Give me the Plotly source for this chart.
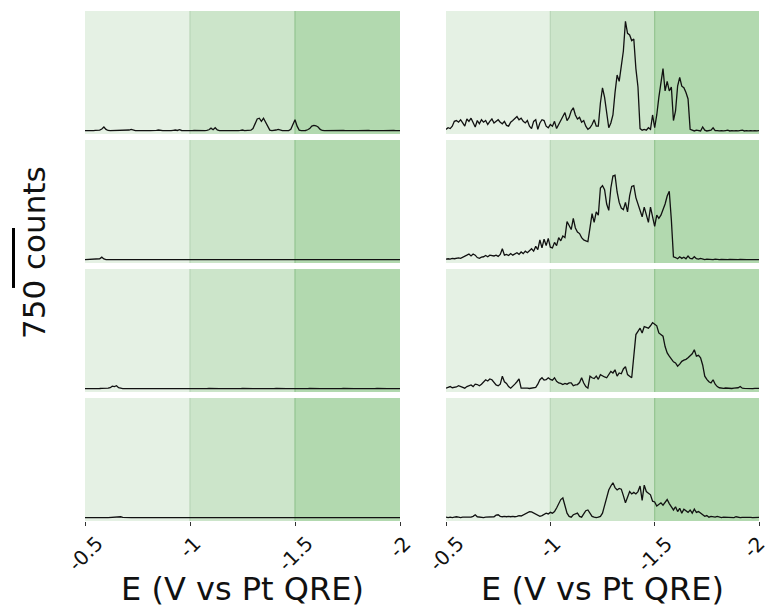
import plotly.graph_objects as go

# ---------------- data ----------------
E_START, E_STEP, N_PTS = -0.5, 0.01, 151
E = [round(E_START - E_STEP * i, 2) for i in range(N_PTS)]

TICK_VALS = [-0.5, -1.0, -1.5, -2.0]
TICK_TEXT = ["-0.5", "-1", "-1.5", "-2"]
REGION_EDGES = [-0.5, -1.0, -1.5, -2.0]
SCALE_COUNTS = 750

left_1 = [5, 3, 6, 4, 5, 8, 6, 10, 25, 50,
          20, 6, 4, 5, 3, 6, 4, 5, 3, 6,
          8, 12, 20, 8, 4, 5, 3, 5, 4, 6,
          3, 5, 4, 6, 8, 12, 6, 4, 5, 3,
          6, 4, 8, 12, 6, 15, 6, 4, 5, 3,
          5, 4, 6, 4, 3, 5, 6, 4, 8, 15,
          35, 15, 40, 12, 5, 4, 6, 3, 5, 4,
          6, 4, 5, 3, 6, 12, 5, 4, 6, 10,
          30, 90, 150, 160, 120, 160, 110, 40, 10, 5,
          6, 12, 20, 8, 5, 4, 6, 4, 20, 70,
          140, 60, 10, 5, 4, 6, 15, 30, 60, 70,
          65, 50, 20, 6, 4, 5, 3, 6, 4, 5,
          3, 5, 4, 6, 3, 5, 4, 6, 3, 5,
          4, 6, 3, 5, 4, 6, 3, 5, 4, 6,
          3, 5, 4, 6, 3, 5, 4, 6, 3, 5, 4]

left_2 = [3, 4, 3, 5, 4, 6, 8, 15, 35, 12,
          5, 4, 3, 5, 4, 3, 5, 4, 3, 4,
          3, 5, 4, 3, 4, 5, 3, 4, 3, 5,
          4, 3, 5, 4, 3, 4, 5, 3, 4, 3,
          5, 4, 3, 4, 5, 3, 4, 3, 5, 4,
          3, 8, 4, 3, 5, 4, 3, 4, 5, 3,
          4, 3, 5, 4, 3, 4, 5, 3, 4, 3,
          5, 4, 3, 4, 5, 3, 4, 3, 5, 4,
          3, 4, 5, 3, 4, 3, 5, 4, 3, 4,
          5, 3, 4, 3, 5, 4, 3, 4, 5, 3,
          4, 3, 5, 4, 3, 4, 5, 3, 4, 3,
          5, 4, 3, 4, 5, 3, 4, 3, 5, 4,
          3, 4, 5, 3, 4, 3, 5, 4, 3, 4,
          5, 3, 4, 3, 5, 4, 3, 4, 5, 3,
          4, 3, 5, 4, 3, 4, 5, 3, 4, 3, 4]

left_3 = [4, 3, 5, 4, 6, 4, 5, 6, 8, 6,
          5, 10, 15, 35, 30, 40, 15, 8, 5, 4,
          6, 4, 5, 3, 4, 6, 4, 5, 3, 4,
          5, 4, 3, 5, 4, 6, 4, 3, 5, 4,
          3, 5, 4, 6, 4, 3, 5, 4, 3, 5,
          4, 6, 4, 3, 5, 4, 3, 5, 4, 6,
          4, 3, 5, 4, 3, 5, 4, 6, 4, 3,
          5, 4, 3, 5, 4, 6, 4, 3, 5, 4,
          3, 5, 4, 6, 4, 3, 5, 4, 3, 5,
          4, 6, 4, 3, 5, 4, 3, 5, 4, 6,
          4, 3, 5, 4, 3, 5, 4, 6, 4, 3,
          5, 4, 3, 5, 4, 6, 4, 3, 5, 4,
          3, 5, 4, 6, 4, 3, 5, 4, 3, 5,
          4, 6, 4, 3, 5, 4, 3, 5, 4, 6,
          4, 3, 5, 4, 3, 5, 4, 6, 4, 3, 4]

left_4 = [3, 4, 3, 5, 4, 3, 4, 5, 3, 4,
          5, 4, 6, 5, 8, 10, 12, 15, 8, 5,
          4, 3, 5, 4, 3, 4, 5, 3, 4, 3,
          5, 4, 3, 4, 5, 3, 4, 3, 5, 4,
          3, 4, 5, 3, 4, 3, 5, 4, 3, 4,
          5, 3, 4, 3, 5, 4, 3, 4, 5, 3,
          4, 3, 5, 4, 3, 4, 5, 3, 4, 3,
          5, 4, 3, 4, 5, 3, 4, 3, 5, 4,
          3, 4, 5, 3, 4, 3, 5, 4, 3, 4,
          5, 3, 4, 3, 5, 4, 3, 4, 5, 3,
          4, 3, 5, 4, 3, 4, 5, 3, 4, 3,
          5, 4, 3, 4, 5, 3, 4, 3, 5, 4,
          3, 4, 5, 3, 4, 3, 5, 4, 3, 4,
          5, 3, 4, 3, 5, 4, 3, 4, 5, 3,
          4, 3, 5, 4, 3, 4, 5, 3, 4, 3, 4]

right_1 = [20, 40, 30, 60, 120, 130, 110, 140, 100, 60,
           150, 120, 160, 100, 50, 130, 90, 140, 110, 130,
           80, 120, 150, 100, 120, 140, 110, 90, 120, 70,
           60, 110, 130, 150, 180, 140, 160, 120, 100, 130,
           60, 30, 120, 140, 20, 100, 140, 130, 60, 40,
           80, 60, 120, 30, 80, 120, 170, 230, 130, 170,
           250, 290, 200, 150, 170, 110, 130, 60, 20, 40,
           80, 140, 60, 60, 350, 540, 420, 250, 40, 100,
           200, 480, 700, 620, 820, 1000, 1370, 1220, 1200, 1130,
           1150, 780, 550, 30, 10, 20, 10, 40, 20, 200,
           40, 200, 420, 600, 780, 500, 620, 500, 550, 130,
           250, 560, 670, 560, 540, 480, 400, 20, 10, 0,
           10, 5, 0, 50, 10, 0, 5, 10, 40, 5,
           5, 0, 5, 0, 5, 10, 0, 5, 0, 5,
           0, 5, 10, 0, 5, 0, 5, 0, 5, 0, 5]

right_2 = [10, 15, 10, 20, 15, 20, 25, 20, 30, 40,
           60, 75, 50, 75, 60, 30, 20, 35, 40, 55,
           40, 60, 55, 50, 60, 45, 70, 140, 60, 70,
           55, 80, 60, 70, 90, 70, 100, 80, 110, 90,
           120, 140, 110, 170, 130, 250, 150, 260, 180, 270,
           160, 150, 220, 180, 280, 240, 300, 280, 480, 420,
           380, 520, 400, 350, 330, 280, 250, 240, 230, 400,
           580, 470, 600, 560, 900, 930, 880, 700, 620, 900,
           1050, 1060, 850, 720, 650, 630, 720, 600, 800, 920,
           930, 780, 700, 620, 540, 660, 560, 470, 660, 530,
           420, 560, 520, 560, 620, 700, 800, 860, 500, 40,
           30, 15, 40, 20, 35, 15, 50, 20, 15, 40,
           15, 10, 20, 8, 5, 10, 6, 8, 5, 10,
           6, 5, 8, 5, 6, 4, 8, 5, 6, 4,
           5, 8, 4, 6, 5, 4, 6, 5, 4, 6, 5]

right_3 = [10, 20, 30, 15, 20, 25, 40, 30, 20, 10,
           30, 40, 50, 30, 60, 55, 40, 60, 90, 115,
           100, 125, 115, 80, 50, 40, 60, 160, 90, 70,
           30, 10, 30, 60, 90, 125, 10, 12, 8, 10,
           6, 10, 8, 20, 60, 115, 140, 110, 115, 140,
           120, 110, 140, 95, 75, 70, 55, 70, 60, 75,
           75, 40, 50, 55, 80, 140, 75, 30, 10, 160,
           140, 130, 160, 120, 180, 160, 150, 140, 180, 220,
           200, 240, 160, 200, 190, 250, 280, 180, 160, 140,
           410, 680, 720, 760, 700, 780, 770, 760, 790, 830,
           810, 790, 700, 680, 660, 530, 450, 410, 370, 340,
           325, 285, 310, 345, 360, 370, 390, 420, 440, 490,
           410, 420, 390, 300, 160, 120, 90, 75, 115, 60,
           30, 15, 10, 8, 12, 8, 10, 6, 10, 8,
           15, 30, 10, 8, 6, 10, 8, 5, 8, 6, 8]

right_4 = [10, 5, 10, 5, 10, 15, 10, 5, 10, 10,
           5, 10, 10, 20, 40, 15, 10, 10, 5, 10,
           10, 15, 10, 15, 35, 40, 20, 15, 20, 15,
           20, 15, 20, 15, 20, 30, 25, 40, 60, 70,
           80, 75, 60, 40, 30, 20, 30, 50, 60, 50,
           70, 60, 80, 125, 180, 230, 250, 140, 60, 20,
           10, 40, 50, 60, 20, 10, 50, 90, 100, 50,
           20, 10, 5, 10, 20, 60, 150, 260, 350, 400,
           440, 380, 350, 370, 360, 280, 190, 260, 330, 300,
           320, 300, 330, 400, 220, 410, 330, 310, 290, 210,
           200, 150, 170, 190, 160, 200, 230, 180, 130, 100,
           140, 80, 120, 60, 110, 90, 70, 100, 60, 110,
           70, 80, 60, 40, 20, 30, 10, 20, 15, 10,
           20, 10, 5, 10, 8, 5, 10, 6, 5, 15,
           8, 5, 8, 10, 5, 6, 8, 5, 6, 5, 8]

panels = [left_1, right_1, left_2, right_2, left_3, right_3, left_4, right_4]

# ---------------- styling ----------------
W, H = 767, 607
FONT = "DejaVu Sans"
REGION_FILLS = ["#e5f1e4", "#cce5ca", "#b2d9af"]
EDGE_COLORS = {-1.0: "#b9d6b7", -1.5: "#93c490"}
Y_RANGE = [-38, 1500]

col_px = [(85, 400), (446, 759)]
row_px = [(11, 134), (140, 263), (269, 392), (398, 521)]

fig = go.Figure()
layout = dict(width=W, height=H, margin=dict(l=0, r=0, t=0, b=0),
              paper_bgcolor="white", plot_bgcolor="rgba(0,0,0,0)",
              showlegend=False, font=dict(family=FONT, color="#111"))
shapes, annotations = [], []
y_domains = {}

for k, ys in enumerate(panels):
    n = k + 1
    r, c = divmod(k, 2)
    xs = "x" if n == 1 else f"x{n}"
    yname = "y" if n == 1 else f"y{n}"
    xkey = "xaxis" if n == 1 else f"xaxis{n}"
    ykey = "yaxis" if n == 1 else f"yaxis{n}"
    x0p, x1p = col_px[c]
    t, b = row_px[r]
    bottom = r == 3
    ydom = [1 - b / H, 1 - t / H]
    y_domains[(r, c)] = ydom
    layout[xkey] = dict(domain=[x0p / W, x1p / W], range=[TICK_VALS[0], TICK_VALS[-1]],
                        anchor=yname, showgrid=False, zeroline=False, showline=False,
                        tickvals=TICK_VALS, showticklabels=False,
                        ticks="outside" if bottom else "", ticklen=4, tickcolor="#333", tickwidth=1)
    layout[ykey] = dict(domain=ydom, range=Y_RANGE, anchor=xs,
                        visible=False, showgrid=False, zeroline=False)
    for j in range(3):
        shapes.append(dict(type="rect", xref=xs, yref=f"{yname} domain",
                           x0=REGION_EDGES[j], x1=REGION_EDGES[j + 1], y0=0, y1=1,
                           fillcolor=REGION_FILLS[j], line=dict(width=0), layer="below"))
    for ev, colr in EDGE_COLORS.items():
        shapes.append(dict(type="line", xref=xs, yref=f"{yname} domain",
                           x0=ev, x1=ev, y0=0, y1=1, line=dict(color=colr, width=1.2), layer="below"))
    fig.add_trace(go.Scatter(x=E, y=ys, mode="lines", xaxis=xs, yaxis=yname,
                             line=dict(color="#111111", width=1.3), hoverinfo="skip"))
    if bottom:
        for tv, tt in zip(TICK_VALS, TICK_TEXT):
            annotations.append(dict(text=tt, x=tv, xref=xs, y=1 - 530 / H, yref="paper",
                                    xanchor="center", yanchor="top", textangle=-45,
                                    borderpad=0, xshift=-5 if tv == TICK_VALS[-1] and c == 1 else 0,
                                    showarrow=False, font=dict(size=20, family=FONT, color="#111")))
        annotations.append(dict(text="E (V vs Pt QRE)", x=(x0p + x1p) / 2 / W, xref="paper",
                                y=1 - 589 / H, yref="paper", xanchor="center", yanchor="middle",
                                showarrow=False, font=dict(size=32, family=FONT, color="#111")))


def counts_to_paper(val, r=1, c=0):
    d0, d1 = y_domains[(r, c)]
    return d0 + (val - Y_RANGE[0]) / (Y_RANGE[1] - Y_RANGE[0]) * (d1 - d0)


# scale bar (750 counts) in the count units of the panels
bar_bottom = -350
shapes.append(dict(type="line", xref="paper", yref="paper", x0=13.5 / W, x1=13.5 / W,
                   y0=counts_to_paper(bar_bottom), y1=counts_to_paper(bar_bottom + SCALE_COUNTS),
                   line=dict(color="black", width=3)))
annotations.append(dict(text=f"{SCALE_COUNTS} counts", x=34 / W, xref="paper", y=1 - 253 / H,
                        yref="paper", xanchor="center", yanchor="middle", textangle=-90,
                        showarrow=False, font=dict(size=31, family=FONT, color="#111")))

layout["shapes"] = shapes
layout["annotations"] = annotations
fig.update_layout(**layout)
fig.write_html("out.html")
